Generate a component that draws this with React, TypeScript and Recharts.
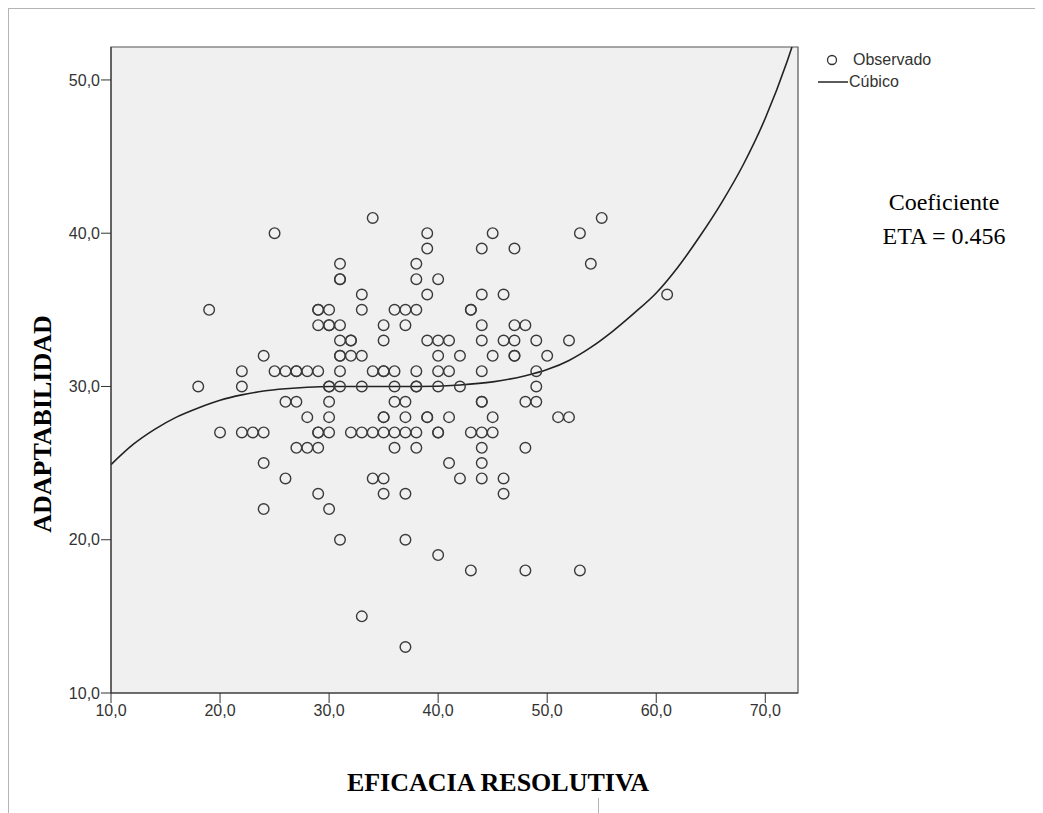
import React from 'react';
import { ComposedChart, Scatter, Line, XAxis, YAxis, CartesianGrid, ReferenceArea } from 'recharts';

// EFICACIA RESOLUTIVA (x) y ADAPTABILIDAD (y), observados
const eficacia = [
  34, 55,
  25, 39, 45, 53,
  39, 44, 47,
  31, 38, 54,
  31, 31, 38, 40,
  33, 39, 44, 46, 61,
  19, 29, 29, 30, 33, 36, 37, 38, 43, 43,
  29, 30, 30, 31, 35, 37, 44, 47, 48,
  31, 32, 32, 35, 39, 40, 41, 44, 46, 47, 49, 52,
  24, 31, 31, 32, 33, 40, 42, 45, 47, 47, 50,
  22, 25, 26, 27, 27, 28, 29, 31, 34, 35, 35, 36, 38, 40, 41, 44, 49,
  18, 22, 30, 30, 31, 33, 36, 38, 38, 40, 42, 49,
  26, 27, 30, 36, 37, 44, 44, 48, 49,
  28, 30, 35, 35, 37, 39, 39, 41, 45, 51, 52,
  20, 22, 23, 24, 29, 29, 30, 32, 33, 34, 35, 36, 37, 38, 40, 40, 43, 44, 45,
  27, 28, 29, 36, 38, 44, 48,
  24, 41, 44,
  26, 34, 35, 42, 44, 46,
  29, 35, 37, 46,
  24, 30,
  31, 37,
  40,
  43, 48, 53,
  33,
  37,
];

const adaptabilidad = [
  41, 41,
  40, 40, 40, 40,
  39, 39, 39,
  38, 38, 38,
  37, 37, 37, 37,
  36, 36, 36, 36, 36,
  35, 35, 35, 35, 35, 35, 35, 35, 35, 35,
  34, 34, 34, 34, 34, 34, 34, 34, 34,
  33, 33, 33, 33, 33, 33, 33, 33, 33, 33, 33, 33,
  32, 32, 32, 32, 32, 32, 32, 32, 32, 32, 32,
  31, 31, 31, 31, 31, 31, 31, 31, 31, 31, 31, 31, 31, 31, 31, 31, 31,
  30, 30, 30, 30, 30, 30, 30, 30, 30, 30, 30, 30,
  29, 29, 29, 29, 29, 29, 29, 29, 29,
  28, 28, 28, 28, 28, 28, 28, 28, 28, 28, 28,
  27, 27, 27, 27, 27, 27, 27, 27, 27, 27, 27, 27, 27, 27, 27, 27, 27, 27, 27,
  26, 26, 26, 26, 26, 26, 26,
  25, 25, 25,
  24, 24, 24, 24, 24, 24,
  23, 23, 23, 23,
  22, 22,
  20, 20,
  19,
  18, 18, 18,
  15,
  13,
];

// curva cúbica
const cubicoX = [10, 12, 14, 16, 18, 20, 22, 24, 26, 28, 30, 34, 38, 42, 45, 48, 50, 52, 54, 56, 58, 60, 62, 64, 66, 68, 70, 72, 72.45];
const cubicoY = [24.9, 26.2, 27.2, 28.0, 28.6, 29.1, 29.45, 29.7, 29.85, 29.95, 30.0, 30.0, 30.0, 30.1, 30.3, 30.7, 31.1, 31.7, 32.55, 33.6, 34.8, 36.1, 37.8, 39.8, 42.0, 44.5, 47.5, 51.2, 52.15];

const xTicks = [10, 20, 30, 40, 50, 60, 70];
const yTicks = [10, 20, 30, 40, 50];

const observados = eficacia.map((x, i) => ({ x, y: adaptabilidad[i] }));
const cubico = cubicoX.map((x, i) => ({ x, y: cubicoY[i] }));

const fmt = (v: number) => v.toFixed(1).replace('.', ',');
const sans = '"Liberation Sans", Arial, sans-serif';
const serif = '"Liberation Serif", "Times New Roman", serif';

const Ring = (props: any) => {
  if (props.cx == null) return null;
  return <circle cx={props.cx} cy={props.cy} r={5.3} fill="none" stroke="#3a3a3a" strokeWidth={1.4} />;
};

export default function App() {
  const W = 1035;
  const H = 805;
  return (
    <div style={{ position: 'relative', width: W, height: H, fontFamily: sans }}>
      <div style={{ position: 'absolute', left: 0, top: 0, width: W, height: 1, background: '#b4b4b4' }} />
      <div style={{ position: 'absolute', left: 0, top: 0, width: 1, height: H, background: '#b4b4b4' }} />
      <div style={{ position: 'absolute', left: 590, top: 790, width: 1, height: 15, background: '#b4b4b4' }} />

      <ComposedChart
        width={W}
        height={H}
        margin={{ top: 39, right: 245, bottom: 90, left: 43 }}
        style={{ position: 'absolute', left: 0, top: 0 }}
      >
        <CartesianGrid fill="#f0f0f0" horizontal={false} vertical={false} />
        <XAxis
          type="number"
          dataKey="x"
          domain={[10, 73]}
          allowDataOverflow
          ticks={xTicks}
          tickFormatter={fmt}
          height={30}
          tickSize={10}
          tickMargin={2}
          stroke="#333"
          tick={{ fontSize: 16, fill: '#333', fontFamily: sans }}
        />
        <YAxis
          type="number"
          dataKey="y"
          domain={[10, 52.15]}
          allowDataOverflow
          ticks={yTicks}
          tickFormatter={fmt}
          width={60}
          tickSize={10}
          tickMargin={1}
          stroke="#333"
          tick={{ fontSize: 16, fill: '#333', fontFamily: sans }}
        />
        <ReferenceArea x1={10} x2={73} y1={10} y2={52.15} fill="none" stroke="#555" strokeWidth={1.2} />
        <Scatter data={observados} shape={Ring} isAnimationActive={false} />
        <Line
          data={cubico}
          dataKey="y"
          type="monotone"
          dot={false}
          activeDot={false}
          stroke="#222"
          strokeWidth={1.6}
          isAnimationActive={false}
        />
      </ComposedChart>

      {/* leyenda */}
      <svg style={{ position: 'absolute', left: 800, top: 42 }} width={40} height={40}>
        <circle cx={24} cy={10} r={4.5} fill="none" stroke="#333" strokeWidth={1.3} />
        <line x1={10} y1={32} x2={40} y2={32} stroke="#333" strokeWidth={1.6} />
      </svg>
      <div style={{ position: 'absolute', left: 845, top: 43, fontSize: 16, color: '#333', lineHeight: '18px' }}>Observado</div>
      <div style={{ position: 'absolute', left: 841, top: 65, fontSize: 16, color: '#333', lineHeight: '18px' }}>Cúbico</div>

      <div style={{ position: 'absolute', left: 856, top: 177, width: 160, textAlign: 'center', fontFamily: serif, fontSize: 24, lineHeight: '34px', color: '#000' }}>
        Coeficiente<br />ETA = 0.456
      </div>

      {/* títulos de ejes */}
      <div style={{ position: 'absolute', left: 190, top: 759, width: 600, textAlign: 'center', fontFamily: serif, fontWeight: 'bold', fontSize: 26, lineHeight: '32px', color: '#000' }}>
        EFICACIA RESOLUTIVA
      </div>
      <div style={{ position: 'absolute', left: 35, top: 416, width: 0, height: 0 }}>
        <div style={{ position: 'absolute', left: -200, top: -16, width: 400, textAlign: 'center', transform: 'rotate(-90deg)', fontFamily: serif, fontWeight: 'bold', fontSize: 26, lineHeight: '32px', color: '#000' }}>
          ADAPTABILIDAD
        </div>
      </div>
    </div>
  );
}
